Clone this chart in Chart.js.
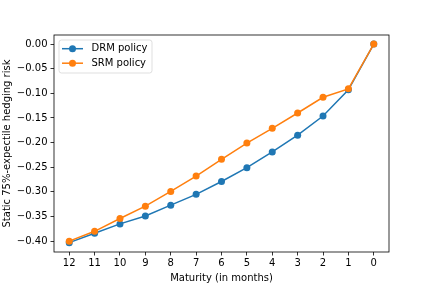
<!DOCTYPE html>
<html>
<head>
<meta charset="utf-8">
<script src="https://cdn.jsdelivr.net/npm/chart.js@4/dist/chart.umd.min.js"></script>
<style>
html,body{margin:0;padding:0;background:#fff;}
canvas{display:block;}
</style>
</head>
<body>
<canvas id="c" width="432" height="288"></canvas>
<script>
const maturities = [12, 11, 10, 9, 8, 7, 6, 5, 4, 3, 2, 1, 0];
const drmValues = [-0.403, -0.384, -0.365, -0.349, -0.327, -0.305, -0.279, -0.251, -0.219, -0.185, -0.146, -0.093, 0.000];
const srmValues = [-0.400, -0.380, -0.354, -0.329, -0.299, -0.268, -0.234, -0.201, -0.171, -0.140, -0.108, -0.091, 0.000];
const yTickValues = [-0.40, -0.35, -0.30, -0.25, -0.20, -0.15, -0.10, -0.05, 0.00];
const seriesNames = ['DRM policy', 'SRM policy'];
const seriesColors = ['#1f77b4', '#ff7f0e'];

const FONT = 'DejaVu Sans';

const frame = {
  id: 'frame',
  afterDatasetsDraw(chart) {
    const a = chart.chartArea, ctx = chart.ctx;
    ctx.save();
    ctx.strokeStyle = '#000';
    ctx.lineWidth = 0.8;
    ctx.strokeRect(a.left, a.top, a.right - a.left, a.bottom - a.top);
    ctx.restore();
  }
};

const legendBox = {
  id: 'legendBox',
  afterDraw(chart) {
    const a = chart.chartArea, ctx = chart.ctx;
    const x = a.left + 5, y = a.top + 5, w = 93, h = 33, r = 2.5;
    ctx.save();
    ctx.globalAlpha = 0.8;
    ctx.fillStyle = '#fff';
    ctx.strokeStyle = '#cccccc';
    ctx.lineWidth = 0.8;
    ctx.beginPath();
    ctx.roundRect(x, y, w, h, r);
    ctx.fill();
    ctx.stroke();
    ctx.globalAlpha = 1;
    chart.data.datasets.forEach((ds, i) => {
      const cy = y + 8.7 + i * 14.5;
      ctx.strokeStyle = ds.borderColor;
      ctx.lineWidth = 1.5;
      ctx.beginPath();
      ctx.moveTo(x + 3, cy);
      ctx.lineTo(x + 24, cy);
      ctx.stroke();
      ctx.fillStyle = ds.borderColor;
      ctx.beginPath();
      ctx.arc(x + 13.5, cy, 3.5, 0, Math.PI * 2);
      ctx.fill();
      ctx.fillStyle = '#000';
      ctx.font = '10px "' + FONT + '"';
      ctx.textBaseline = 'middle';
      ctx.textAlign = 'left';
      ctx.fillText(ds.label, x + 32.5, cy);
    });
    ctx.restore();
  }
};

const fmt = v => {
  const s = Math.abs(v) < 1e-9 ? '0.00' : v.toFixed(2);
  return s.replace('-', '\u2212');
};

new Chart(document.getElementById('c'), {
  type: 'line',
  data: {
    datasets: [
      {
        label: seriesNames[0],
        data: maturities.map((m, i) => ({x: m, y: drmValues[i]})),
        borderColor: seriesColors[0],
        backgroundColor: seriesColors[0],
        borderWidth: 1.5,
        pointRadius: 3.5,
        pointBorderWidth: 0,
        pointBackgroundColor: seriesColors[0],
        tension: 0,
        order: 1
      },
      {
        label: seriesNames[1],
        data: maturities.map((m, i) => ({x: m, y: srmValues[i]})),
        borderColor: seriesColors[1],
        backgroundColor: seriesColors[1],
        borderWidth: 1.5,
        pointRadius: 3.5,
        pointBorderWidth: 0,
        pointBackgroundColor: seriesColors[1],
        tension: 0,
        order: 0
      }
    ]
  },
  options: {
    responsive: false,
    animation: false,
    devicePixelRatio: 1,
    layout: {padding: {left: 0, right: 43, top: 35, bottom: 0}},
    plugins: {legend: {display: false}, tooltip: {enabled: false}},
    scales: {
      x: {
        type: 'linear',
        reverse: true,
        min: -0.6,
        max: 12.6,
        afterBuildTicks(s) { s.ticks = maturities.map(v => ({value: v})); },
        afterFit(s) { s.height = 36; },
        ticks: {
          color: '#000',
          font: {family: FONT, size: 10},
          padding: 2,
          maxRotation: 0,
          callback: v => String(v)
        },
        grid: {display: true, drawOnChartArea: false, drawTicks: true, tickLength: 3.5, color: '#000', lineWidth: 0.8},
        border: {display: false},
        title: {display: true, text: 'Maturity (in months)', color: '#000', font: {family: FONT, size: 10}, padding: {top: 0, bottom: 4}}
      },
      y: {
        type: 'linear',
        min: -0.422,
        max: 0.0183,
        afterBuildTicks(s) { s.ticks = yTickValues.map(v => ({value: v})); },
        afterFit(s) { s.width = 54; },
        ticks: {
          color: '#000',
          font: {family: FONT, size: 10},
          padding: 3,
          callback: v => fmt(v)
        },
        grid: {display: true, drawOnChartArea: false, drawTicks: true, tickLength: 3.5, color: '#000', lineWidth: 0.8},
        border: {display: false},
        title: {display: true, text: 'Static 75%-expectile hedging risk', color: '#000', font: {family: FONT, size: 10}, padding: {top: 1, bottom: 0}}
      }
    }
  },
  plugins: [frame, legendBox]
});
</script>
</body>
</html>
